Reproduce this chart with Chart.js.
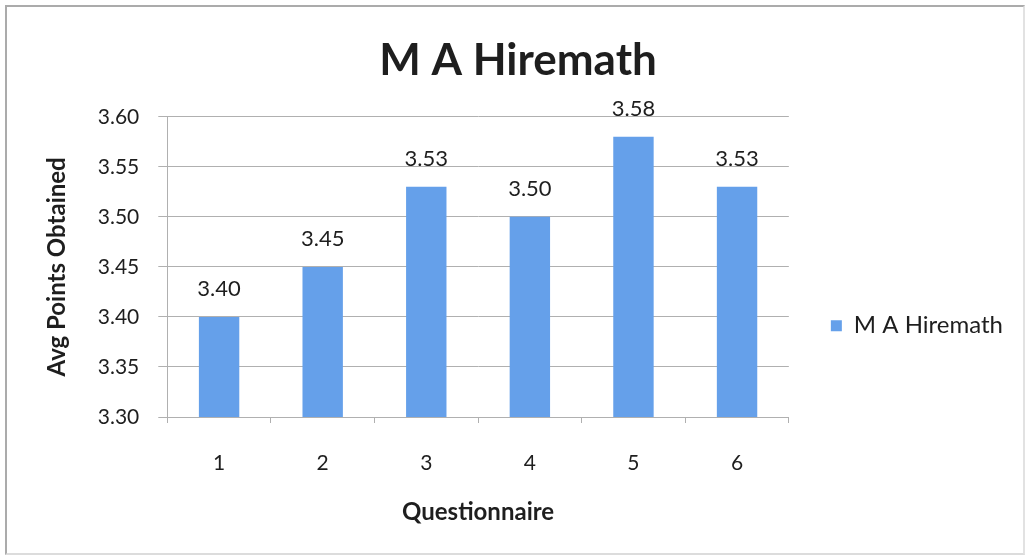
<!DOCTYPE html>
<html>
<head>
<meta charset="utf-8">
<script src="https://cdn.jsdelivr.net/npm/chart.js@4/dist/chart.umd.min.js"></script>
<style>
  body { margin: 0; background: #fff; }
  #wrap { position: relative; width: 1027px; height: 558px; }
  #frame {
    position: absolute; left: 5px; top: 5px; width: 1020px; height: 550px;
    border: 2px solid #ababab; border-right-color: #e2e2e2; border-bottom-color: #dcdcdc;
    box-sizing: border-box;
  }
  canvas { position: absolute; left: 0; top: 0; }
</style>
</head>
<body>
<div id="wrap">
  <div id="frame"></div>
  <canvas id="chart" width="1027" height="558"></canvas>
</div>
<script>
const questions = ['1', '2', '3', '4', '5', '6'];
const avgPoints = [3.40, 3.45, 3.53, 3.50, 3.58, 3.53];
const yTicks = [3.30, 3.35, 3.40, 3.45, 3.50, 3.55, 3.60];

const FONT = 'Lato, "Open Sans", sans-serif';
const INK = '#1e1e1e';
const GRID = '#b0b0b0';

// value labels over each bar
const barLabels = {
  id: 'barLabels',
  afterDatasetsDraw(chart) {
    const ctx = chart.ctx;
    const meta = chart.getDatasetMeta(0);
    ctx.save();
    ctx.font = '22px ' + FONT;
    ctx.fillStyle = INK;
    ctx.textAlign = 'center';
    ctx.textBaseline = 'bottom';
    meta.data.forEach((bar, i) => {
      ctx.fillText(avgPoints[i].toFixed(2), bar.x, bar.y - 17);
    });
    ctx.restore();
  }
};

new Chart(document.getElementById('chart').getContext('2d'), {
  type: 'bar',
  data: {
    labels: questions,
    datasets: [{
      label: 'M A Hiremath',
      data: avgPoints,
      backgroundColor: 'rgb(101, 160, 234)',
      barPercentage: 0.39,
      categoryPercentage: 1
    }]
  },
  options: {
    responsive: false,
    animation: false,
    layout: { padding: { left: 23, right: 14, top: 22, bottom: 31 } },
    plugins: {
      title: {
        display: true,
        text: 'M A Hiremath',
        color: INK,
        font: { family: FONT, size: 44, weight: 'bold' },
        padding: { top: 12, bottom: 30 }
      },
      legend: {
        position: 'right',
        title: { display: true, text: '', padding: 44 },
        labels: {
          color: INK,
          font: { family: FONT, size: 24 },
          boxWidth: 11,
          boxHeight: 11,
          padding: 42
        }
      },
      tooltip: { enabled: false }
    },
    scales: {
      x: {
        offset: true,
        grid: { display: true, drawOnChartArea: false, offset: true, tickLength: 6, color: GRID },
        border: { color: GRID },
        ticks: { color: INK, font: { family: FONT, size: 21 }, padding: 27.5 },
        title: {
          display: true,
          text: 'Questionnaire',
          color: INK,
          font: { family: FONT, size: 24, weight: 'bold' },
          padding: { top: -5, bottom: 0 }
        }
      },
      y: {
        min: 3.30,
        max: 3.60,
        afterBuildTicks: scale => { scale.ticks = yTicks.map(v => ({ value: v })); },
        grid: { color: GRID, tickLength: 9 },
        border: { color: GRID },
        ticks: {
          color: INK,
          font: { family: FONT, size: 21 },
          padding: 19,
          callback: v => v.toFixed(2)
        },
        title: {
          display: true,
          text: 'Avg Points Obtained',
          color: INK,
          font: { family: FONT, size: 24, weight: 'bold' },
          padding: { top: 20, bottom: 7 }
        }
      }
    }
  },
  plugins: [barLabels]
});
</script>
</body>
</html>
